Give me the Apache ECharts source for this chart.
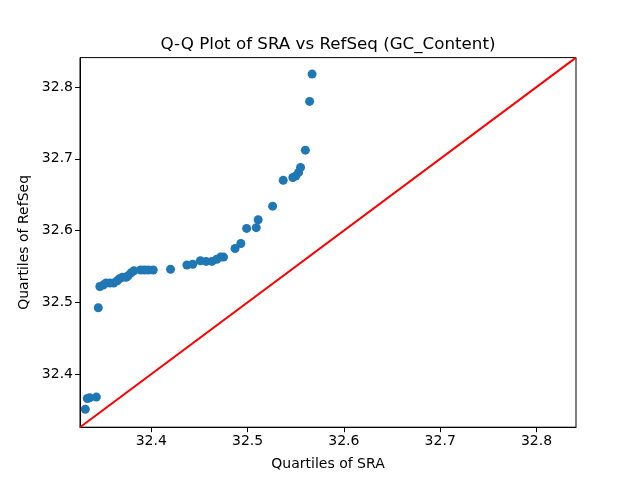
<!DOCTYPE html>
<html>
<head>
<meta charset="utf-8">
<script src="https://cdn.jsdelivr.net/npm/echarts@6/dist/echarts.min.js"></script>
<style>
  html, body { margin: 0; padding: 0; background: #fff; }
  #chart { width: 640px; height: 480px; }
</style>
</head>
<body>
<div id="chart"></div>
<script>
// quantiles
var sraQuartiles = [
  32.3315, 32.3336, 32.336, 32.343, 32.345, 32.3466, 32.350, 32.353, 32.357, 32.361,
  32.3647, 32.367, 32.370, 32.374, 32.376, 32.379, 32.382, 32.389, 32.393, 32.397,
  32.402, 32.420, 32.437, 32.443, 32.451, 32.457, 32.463, 32.468, 32.472, 32.475,
  32.487, 32.493, 32.499, 32.509, 32.511, 32.526, 32.537, 32.547, 32.550, 32.553,
  32.555, 32.560, 32.5644, 32.567
]
var refseqQuartiles = [
  32.351, 32.366, 32.367, 32.368, 32.4925, 32.522, 32.524, 32.527, 32.527, 32.527,
  32.530, 32.533, 32.535, 32.535, 32.537, 32.541, 32.544, 32.545, 32.545, 32.545,
  32.545, 32.546, 32.552, 32.553, 32.558, 32.557, 32.557, 32.560, 32.563, 32.563,
  32.575, 32.582, 32.603, 32.604, 32.615, 32.634, 32.670, 32.674, 32.676, 32.681,
  32.688, 32.712, 32.780, 32.818
]
var axisRange = [32.326, 32.841] // same limits on both axes (45 degree line)
var tickValues = [32.4, 32.5, 32.6, 32.7, 32.8]

var font = 'DejaVu Sans'

function makeAxis(name, gap, rotate) {
  return {
    type: 'value',
    min: axisRange[0],
    max: axisRange[1],
    name: name,
    nameLocation: 'middle',
    nameGap: gap,
    nameRotate: rotate,
    nameTextStyle: { color: '#000', fontFamily: font, fontSize: 14 },
    splitLine: { show: false },
    axisLine: { show: true, onZero: false, lineStyle: { color: '#000', width: 1 } },
    axisTick: { show: true, inside: false, length: 5, customValues: tickValues, lineStyle: { color: '#000' } },
    axisLabel: {
      color: '#000', fontFamily: font, fontSize: 14, margin: 7,
      customValues: tickValues,
      formatter: function(v) { return v.toFixed(1) }
    }
  }
}

var chart = echarts.init(document.getElementById('chart'), null, { renderer: 'canvas' })
chart.setOption({
  animation: false,
  backgroundColor: '#fff',
  title: {
    text: 'Q-Q Plot of SRA vs RefSeq (GC_Content)',
    left: 323,
    top: 31,
    textAlign: 'center',
    textStyle: { color: '#000', fontFamily: font, fontSize: 16.7, fontWeight: 'normal' }
  },
  grid: {
    left: 80, right: 64, top: 57.6, bottom: 52.8,
    show: true, borderColor: '#000', borderWidth: 1, backgroundColor: 'transparent'
  },
  xAxis: makeAxis('Quartiles of SRA', 30, 0),
  yAxis: makeAxis('Quartiles of RefSeq', 45, 90),
  series: [
    {
      type: 'scatter',
      data: sraQuartiles.map(function(x, i) { return [x, refseqQuartiles[i]] }),
      symbolSize: 9,
      itemStyle: { color: '#1f77b4', opacity: 1 },
      z: 3
    },
    {
      type: 'line',
      data: [[axisRange[0], axisRange[0]], [axisRange[1], axisRange[1]]],
      symbol: 'none',
      lineStyle: { color: '#ff0000', width: 2 },
      z: 4
    }
  ]
})
</script>
</body>
</html>
